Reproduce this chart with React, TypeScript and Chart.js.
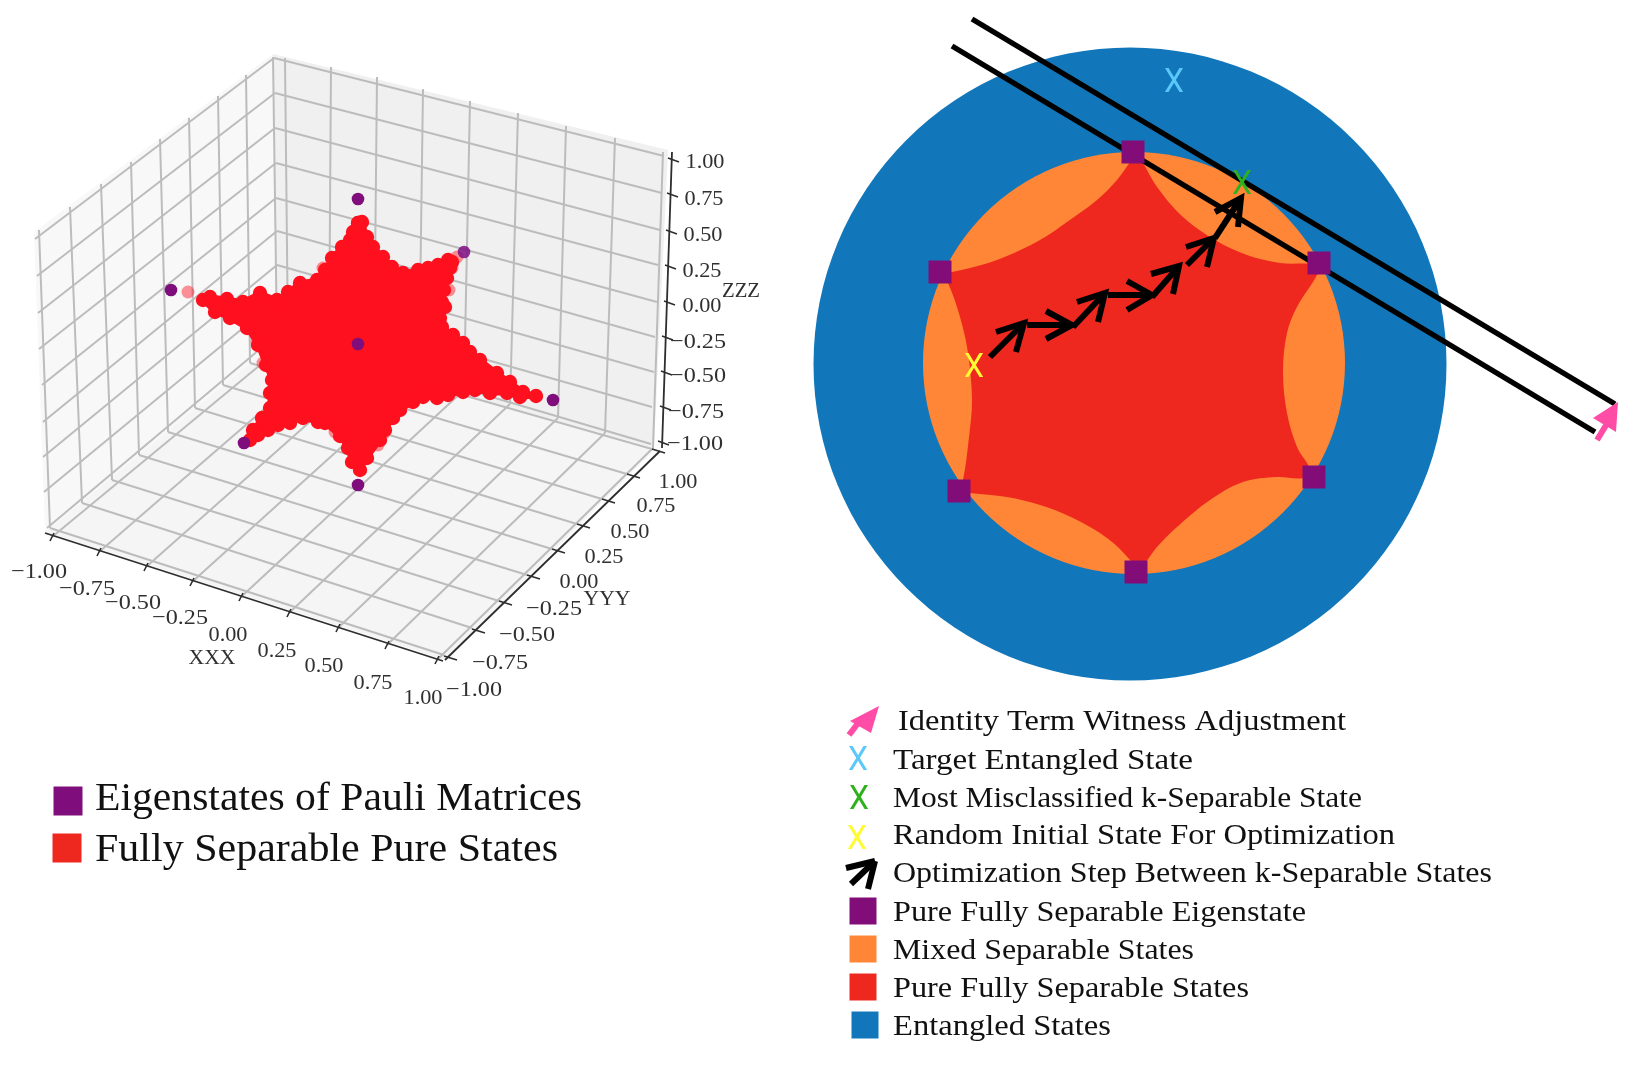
import React, { useEffect, useRef } from "react";
import { Chart, registerables } from "chart.js";

Chart.register(...registerables);

type P = [number, number];

// ---------- left panel: 3D scatter ----------
const paneLeft: P[] = [[34, 232], [273, 54], [276, 342], [45, 532]];
const paneBack: P[] = [[273, 54], [668, 150], [654, 448], [276, 342]];
const paneFloor: P[] = [[45, 532], [276, 342], [655, 449], [445, 660]];

const leftWallTop: P[] = [[39, 230], [70, 207], [101, 184], [131, 162], [160, 139], [189, 118], [218, 96], [246, 75], [273, 57]];
const leftWallBottom: P[] = [[50, 528], [82, 503], [112, 480], [139, 455], [168, 432], [195, 408], [223, 385], [250, 363], [277, 342]];
const leftWallEdge: P[] = [[35, 239], [37, 276], [38, 313], [39, 349], [42, 385], [43, 422], [43, 457], [44, 492], [47, 528]];
const cornerEdge: P[] = [[274, 58], [275, 93], [275, 128], [276, 163], [276, 198], [277, 231], [277, 265], [277, 300], [278, 334]];
const backWallEdge: P[] = [[664, 156], [662, 193], [660, 230], [658, 265], [657, 302], [655, 337], [654, 372], [652, 407], [651, 444]];
const backWallTop: P[] = [[285, 58], [331, 67], [377, 77], [423, 89], [470, 101], [518, 113], [566, 126], [615, 138], [663, 152]];
const backWallBottom: P[] = [[288, 342], [329, 353], [374, 365], [419, 377], [464, 390], [510, 404], [558, 418], [605, 433], [653, 448]];
const xTicks: P[] = [[52, 537], [99, 552], [146, 567], [192, 582], [241, 597], [289, 613], [338, 628], [387, 645], [437, 660]];
const yTicks: P[] = [[450, 658], [478, 631], [505, 603], [533, 577], [558, 551], [583, 526], [608, 501], [633, 476], [658, 451]];
const zTicks: P[] = [[672, 160], [671, 195], [670, 232], [669, 267], [668, 303], [666, 338], [665, 373], [664, 408], [662, 443]];
const floorRight: P[] = [[444, 655], [472, 628], [499, 601], [527, 575], [552, 549], [577, 524], [602, 499], [627, 474], [652, 449]];

const xAxisLine: P[] = [[45, 533], [443, 661]];
const yAxisLine: P[] = [[445, 660], [660, 451]];
const zAxisLine: P[] = [[662, 448], [672, 152]];

const zLabels = ["1.00", "0.75", "0.50", "0.25", "0.00", "\u22120.25", "\u22120.50", "\u22120.75", "\u22121.00"];
const zLabelPos: P[] = [[705, 162], [704, 199], [703, 235], [702, 271], [702, 306], [698, 342], [698, 376], [696, 412], [695, 444]];
const xLabels = ["\u22121.00", "\u22120.75", "\u22120.50", "\u22120.25", "0.00", "0.25", "0.50", "0.75", "1.00"];
const xLabelPos: P[] = [[39, 572], [87, 589], [133, 603], [180, 618], [228, 635], [277, 651], [324, 666], [373, 683], [423, 698]];
const yLabels = ["\u22121.00", "\u22120.75", "\u22120.50", "\u22120.25", "0.00", "0.25", "0.50", "0.75", "1.00"];
const yLabelPos: P[] = [[474, 690], [500, 663], [527, 635], [554, 609], [579, 582], [604, 557], [630, 532], [656, 506], [678, 482]];
const axisNames = ["XXX", "YYY", "ZZZ"];
const axisNamePos: P[] = [[212, 658], [607, 599], [741, 291]];
const axisNameWidths = [47, 47, 38];

const eigenstates: P[] = [[358, 199], [171, 290], [358, 344], [553, 400], [244, 443], [358, 485]];
const fadedEigenstates: P[] = [[464, 252]];
const starEdge: P[] = [
  [358, 223], [362, 222], [367, 237], [373, 247], [383, 257], [392, 267], [403, 273], [418, 270], [428, 268], [438, 265],
  [448, 260], [452, 262], [450, 268], [447, 278], [444, 290], [442, 302], [445, 307], [440, 318], [442, 327], [453, 335],
  [463, 343], [470, 352], [480, 360], [497, 373], [510, 382], [523, 392], [536, 396], [520, 397], [507, 393], [490, 393],
  [475, 390], [463, 392], [448, 395], [437, 398], [423, 397], [413, 402], [400, 410], [393, 418], [385, 430], [380, 440],
  [367, 458], [360, 470], [352, 462], [348, 448], [340, 436], [325, 423], [318, 422], [303, 418], [290, 423], [278, 425],
  [268, 430], [258, 435], [250, 440], [253, 430], [262, 418], [270, 408], [270, 393], [272, 380], [266, 365], [258, 345],
  [247, 328], [230, 318], [215, 312], [203, 300], [210, 297], [227, 299], [243, 302], [260, 293], [277, 300], [288, 292],
  [300, 283], [317, 280], [325, 270], [332, 258], [342, 247], [350, 240], [353, 232], [358, 223],
];
const starFaint: P[] = [[188, 292], [457, 257], [449, 290], [323, 268], [263, 363], [384, 433], [335, 432], [257, 342], [378, 445], [363, 458], [452, 268]];

const leftLegendLabels = ["Eigenstates of Pauli Matrices", "Fully Separable Pure States"];
const leftLegendTextPos: P[] = [[95, 800], [95, 851]];
const leftLegendWidths = [487, 463];
const leftLegendEigen: P[] = [[68, 801]];
const leftLegendPure: P[] = [[67, 848]];

// ---------- right panel: schematic ----------
const entangledDisc: P[] = [[1130, 364]];
const mixedDisc: P[] = [[1134, 363]];
const pureStar: P[] = [
  [1133, 152], [1141, 160], [1157, 187], [1183, 217], [1215, 240], [1247, 255], [1280, 263], [1319, 265],
  [1317, 275], [1297, 307], [1287, 333], [1283, 372], [1287, 413], [1297, 447], [1310, 470],
  [1303, 478], [1277, 477], [1243, 482], [1210, 500], [1177, 527], [1157, 547], [1145, 563], [1136, 572],
  [1130, 560], [1107, 538], [1073, 518], [1040, 505], [1007, 497], [970, 493], [958, 491],
  [963, 480], [969, 437], [972, 400], [968, 353], [960, 317], [948, 283], [940, 272],
  [952, 272], [997, 260], [1040, 240], [1067, 222], [1097, 200], [1117, 180], [1130, 162],
];
const separableEigenstates: P[] = [[1133, 152], [1319, 263], [1314, 477], [1136, 572], [959, 491], [940, 272]];
const witnessLines: [P, P][] = [[[972, 19], [1615, 404]], [[952, 46], [1595, 432]]];
const stepStarts: P[] = [[990, 357], [1027, 325], [1073, 327], [1108, 295], [1152, 297], [1187, 265], [1215, 238]];
const stepTips: P[] = [[1024, 323], [1072, 325], [1105, 293], [1152, 295], [1179, 266], [1214, 238], [1241, 198]];
const stepBarbsA: P[] = [[996, 332], [1046, 311], [1077, 302], [1127, 281], [1151, 274], [1186, 247], [1215, 212]];
const stepBarbsB: P[] = [[1016, 352], [1046, 339], [1098, 322], [1127, 310], [1173, 294], [1207, 267], [1238, 227]];
const adjustHead: P[] = [[1618, 402], [1593, 418], [1616, 432]];
const adjustShaft: P[] = [[1597, 440], [1608, 422]];

const stateMarks = ["X", "X", "X"];
const stateMarkPos: P[] = [[1174, 84], [1242, 186], [974, 369]];

const legendLabels = [
  "Identity Term Witness Adjustment",
  "Target Entangled State",
  "Most Misclassified k-Separable State",
  "Random Initial State For Optimization",
  "Optimization Step Between k-Separable States",
  "Pure Fully Separable Eigenstate",
  "Mixed Separable States",
  "Pure Fully Separable States",
  "Entangled States",
];
const legendTextPos: P[] = [[898, 722], [893, 761], [893, 799], [893, 836], [893, 874], [893, 913], [893, 951], [893, 989], [893, 1027]];
const legendWidths = [448, 300, 469, 502, 599, 413, 301, 356, 218];
const legendMarkPos: P[] = [[858, 762], [859, 801], [857, 841]];
const legendPurple: P[] = [[863, 911]];
const legendOrange: P[] = [[863, 949]];
const legendRed: P[] = [[863, 987]];
const legendBlue: P[] = [[865, 1025]];
const legendAdjustHead: P[] = [[879, 706], [850, 721], [871, 733]];
const legendAdjustShaft: P[] = [[849, 735], [862, 718]];
const legendStep: P[] = [[875, 861], [846, 868]];
const legendStepB: P[] = [[875, 861], [868, 889]];
const legendStepShaft: P[] = [[851, 884], [875, 861]];

// ---------- colours ----------
const PURPLE = "#7f0e7c";
const DIAGRAM_PURPLE = "#820d78";
const ORANGE = "#ff8636";
const RED = "#ee281e";
const BLUE = "#1277ba";
const SCATTER_RED = "#ff101e";
const PINK = "#ff4ca6";
const GRID = "#bcbcbc";
const LIGHT_BLUE = "#5ac8fa";
const GREEN = "#2fb01e";
const YELLOW = "#fffb33";

// ---------- helpers ----------
const pts = (a: P[]) => a.map(([x, y]) => ({ x, y }));
const GAP = { x: NaN, y: NaN };
const segs = (a: P[], b: P[]) => a.flatMap((p, i) => [{ x: p[0], y: p[1] }, { x: b[i][0], y: b[i][1] }, GAP]);
const tickMarks = (a: P[], d0: P, d1: P) =>
  a.flatMap(([x, y]) => [{ x: x + d0[0], y: y + d0[1] }, { x: x + d1[0], y: y + d1[1] }, GAP]);

const poly = (a: P[], color: string, tension = 0) => ({
  data: pts(a), showLine: true, fill: "shape", backgroundColor: color,
  borderColor: "rgba(0,0,0,0)", borderWidth: 0, pointRadius: 0, tension,
});
const line = (data: any[], color: string, width: number, join = "miter") => ({
  data, showLine: true, fill: false, borderColor: color, borderWidth: width, pointRadius: 0, tension: 0,
  borderJoinStyle: join, borderCapStyle: "butt", spanGaps: false,
});
const dots = (a: P[], color: string, r: number, style = "circle") => ({
  data: pts(a), showLine: false, pointRadius: r, pointBackgroundColor: color, backgroundColor: color,
  pointBorderWidth: 0, pointStyle: style,
});
const square = (a: P[], color: string, side: number) => dots(a, color, side / Math.SQRT2, "rect");

type TextItem = { text: string; at: P; font: string; color: string; align: CanvasTextAlign; width?: number };

const textPlugin = (items: TextItem[]) => ({
  id: "panelText",
  afterDatasetsDraw(chart: any) {
    const { ctx, scales } = chart;
    for (const t of items) {
      const px = scales.x.getPixelForValue(t.at[0]);
      const py = scales.y.getPixelForValue(t.at[1]);
      ctx.save();
      ctx.font = t.font;
      ctx.fillStyle = t.color;
      ctx.textBaseline = "middle";
      ctx.textAlign = t.align;
      ctx.translate(px, py);
      if (t.width) ctx.scale(t.width / ctx.measureText(t.text).width, 1);
      ctx.fillText(t.text, 0, 0);
      ctx.restore();
    }
  },
});

const makeChart = (canvas: HTMLCanvasElement, xMin: number, xMax: number, painter: any[], items: TextItem[]) =>
  new Chart(canvas, {
    type: "scatter",
    data: { datasets: painter.slice().reverse() },
    plugins: [textPlugin(items)],
    options: {
      animation: false,
      responsive: false,
      devicePixelRatio: 1,
      events: [],
      layout: { padding: 0, autoPadding: false },
      plugins: { legend: { display: false }, tooltip: { enabled: false }, title: { display: false } },
      scales: {
        x: { type: "linear", min: xMin, max: xMax, display: false },
        y: { type: "linear", min: 0, max: 1066, reverse: true, display: false },
      },
    } as any,
  } as any);

const SPLIT = 790;

export default function App() {
  const leftRef = useRef<HTMLCanvasElement>(null);
  const rightRef = useRef<HTMLCanvasElement>(null);

  useEffect(() => {
    document.body.style.margin = "0";

    const AX = "#2e2e2e";
    const tickFont = '22px "Liberation Serif"';
    const tick = (labels: string[], pos: P[]): TextItem[] =>
      labels.map((text, i) => ({
        text, at: pos[i], font: tickFont, color: "#303030", align: "center", width: text.startsWith("\u2212") ? 56 : 39,
      }));

    const leftItems: TextItem[] = [
      ...tick(xLabels, xLabelPos),
      ...tick(yLabels, yLabelPos),
      ...tick(zLabels, zLabelPos),
      ...axisNames.map((text, i): TextItem => ({
        text, at: axisNamePos[i], font: tickFont, color: "#303030", align: "center", width: axisNameWidths[i],
      })),
      ...leftLegendLabels.map((text, i): TextItem => ({
        text, at: leftLegendTextPos[i], font: '39px "Liberation Serif"', color: "#111111", align: "left", width: leftLegendWidths[i],
      })),
    ];

    const leftDatasets = [
      poly(paneLeft, "#f8f8f8"),
      poly(paneBack, "#f0f0f0"),
      poly(paneFloor, "#f5f5f5"),
      line(segs(leftWallTop, leftWallBottom), GRID, 2),
      line(segs(leftWallEdge, cornerEdge), GRID, 2),
      line(segs(cornerEdge, backWallEdge), GRID, 2),
      line(segs(backWallTop, backWallBottom), GRID, 2),
      line(segs(xTicks, backWallBottom), GRID, 2),
      line(segs(leftWallBottom, floorRight), GRID, 2),
      line(pts(xAxisLine), AX, 1.8),
      line(pts(yAxisLine), AX, 1.8),
      line(pts(zAxisLine), AX, 1.8),
      line(tickMarks(xTicks, [-2, 4], [2, -4]), AX, 1.6),
      line(tickMarks(yTicks, [-6, -2], [7, 2]), AX, 1.6),
      line(tickMarks(zTicks, [-4, -2], [7, 2]), AX, 1.6),
      dots(starFaint, "rgba(255,16,30,0.45)", 6.5),
      poly(starEdge, SCATTER_RED),
      line(pts(starEdge), SCATTER_RED, 5, "round"),
      dots(starEdge, SCATTER_RED, 7.2),
      dots(eigenstates, PURPLE, 6.3),
      dots(fadedEigenstates, "rgba(127,14,130,0.85)", 6.3),
      square(leftLegendEigen, PURPLE, 29),
      square(leftLegendPure, RED, 29),
    ];

    const markFont = '33px Roboto, "Liberation Sans"';
    const markColors = [LIGHT_BLUE, GREEN, YELLOW];
    const rightItems: TextItem[] = [
      ...stateMarks.map((text, i): TextItem => ({
        text, at: stateMarkPos[i], font: markFont, color: markColors[i], align: "center", width: 20,
      })),
      ...stateMarks.map((text, i): TextItem => ({
        text, at: legendMarkPos[i], font: markFont, color: markColors[i], align: "center", width: 20,
      })),
      ...legendLabels.map((text, i): TextItem => ({
        text, at: legendTextPos[i], font: '30px "Liberation Serif"', color: "#111111", align: "left", width: legendWidths[i],
      })),
    ];

    const stepShafts = segs(stepStarts, stepTips);
    const stepHeads = stepTips.flatMap((tip, i) => [
      { x: stepBarbsA[i][0], y: stepBarbsA[i][1] }, { x: tip[0], y: tip[1] }, { x: stepBarbsB[i][0], y: stepBarbsB[i][1] }, GAP,
    ]);

    const rightDatasets = [
      dots(entangledDisc, BLUE, 316.5),
      dots(mixedDisc, ORANGE, 211),
      poly(pureStar, RED, 0.35),
      ...witnessLines.map(([a, b]) => line(pts([a, b]), "#000000", 5.5)),
      square(separableEigenstates, DIAGRAM_PURPLE, 23),
      line(stepShafts, "#000000", 6),
      line(stepHeads, "#000000", 6),
      poly(adjustHead, PINK),
      line(pts(adjustShaft), PINK, 6),
      poly(legendAdjustHead, PINK),
      line(pts(legendAdjustShaft), PINK, 6),
      line(pts(legendStep), "#000000", 6),
      line(pts(legendStepB), "#000000", 6),
      line(pts(legendStepShaft), "#000000", 6),
      square(legendPurple, DIAGRAM_PURPLE, 27),
      square(legendOrange, ORANGE, 27),
      square(legendRed, RED, 27),
      square(legendBlue, BLUE, 27),
    ];

    const left = makeChart(leftRef.current!, 0, SPLIT, leftDatasets, leftItems);
    const right = makeChart(rightRef.current!, SPLIT, 1650, rightDatasets, rightItems);
    return () => {
      left.destroy();
      right.destroy();
    };
  }, []);

  return (
    <div style={{ position: "absolute", left: 0, top: 0, width: 1650, height: 1066, overflow: "hidden", background: "#fff" }}>
      <canvas ref={leftRef} width={SPLIT} height={1066}
        style={{ position: "absolute", left: 0, top: 0, width: SPLIT, height: 1066, filter: "blur(0.6px)" }} />
      <canvas ref={rightRef} width={1650 - SPLIT} height={1066}
        style={{ position: "absolute", left: SPLIT, top: 0, width: 1650 - SPLIT, height: 1066 }} />
    </div>
  );
}
